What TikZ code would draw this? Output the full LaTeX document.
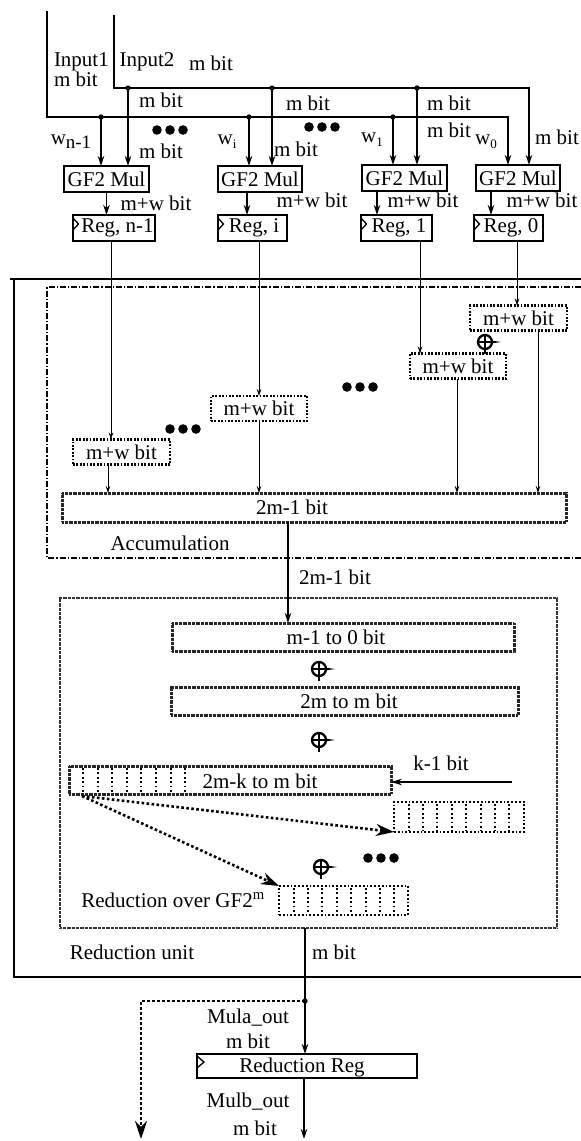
\documentclass[tikz,border=0pt]{standalone}
\usepackage{fontspec}
\setmainfont{Liberation Serif}
\usetikzlibrary{arrows.meta}
\tikzset{
  every node/.style={font=\fontsize{21}{20}\selectfont, inner sep=0pt, outer sep=0pt},
  sbox/.style={draw, line width=1.4pt, minimum height=26pt},
  arr/.style={line width=1.3pt, -{Stealth[length=10pt,width=6.5pt]}},
  tarr/.style={line width=0.75pt, -{Stealth[length=7pt,width=4.5pt]}},
  dbox/.style={draw, line width=2.2pt, dash pattern=on 1.8pt off 1.6pt, minimum height=25pt},
  gbox/.style={draw=black!85, line width=3pt, dash pattern=on 0.8pt off 0.5pt, minimum height=28pt},
  bitbox/.style={draw, line width=2.2pt, dash pattern=on 1.8pt off 2pt, minimum height=29pt},
  divider/.style={line width=2pt, dash pattern=on 1.8pt off 2.6pt},
  dotarr/.style={line width=2.6pt, dash pattern=on 2.6pt off 2.4pt, -{Stealth[length=18pt,width=12pt]}},
  accline/.style={line width=1.1pt, dash pattern=on 6pt off 2pt on 1.2pt off 2pt},
  clk/.style={line width=1.3pt},
  xorsym/.pic={
    \draw[line width=2.3pt] (0,0) circle (7pt);
    \draw[line width=2.3pt] (-7,0) -- (7,0) (0,-7) -- (0,12);
    \fill (6,-1.5) -- (16,0) -- (6,1.5) -- cycle;
  },
  dots3/.pic={
    \fill (-13,0) circle (4.8pt) (0,0) circle (4.8pt) (13,0) circle (4.8pt);
  },
}
\begin{document}
\begin{tikzpicture}[x=1pt,y=-1pt]
\useasboundingbox (0,0) rectangle (581,1141);

% ---------- top inputs ----------
\coordinate (in1top) at (47,11);
\coordinate (in2top) at (114,15);
\coordinate (w0c) at (508,117);
\coordinate (m0c) at (529,88);
\coordinate (t1) at (101,117);
\coordinate (t2) at (249,117);
\coordinate (t3) at (393,117);
\coordinate (u1) at (128,88);
\coordinate (u2) at (272,88);
\coordinate (u3) at (417,88);

\node[sbox, minimum width=85pt] (gf1) at (106.5,179) {GF2 Mul};
\node[sbox, minimum width=84pt] (gf2) at (260,179) {GF2 Mul};
\node[sbox, minimum width=85pt] (gf3) at (404.5,178) {GF2 Mul};
\node[sbox, minimum width=84pt] (gf4) at (518,178) {GF2 Mul};

\draw[arr] (in1top) |- (w0c) -- (w0c |- gf4.north);
\draw[arr] (in2top) |- (m0c) -- (m0c |- gf4.north);
\foreach \t/\g in {t1/gf1,t2/gf2,t3/gf3,u1/gf1,u2/gf2,u3/gf3}{
  \draw[arr] (\t) -- (\t |- \g.north);
  \fill (\t) circle (2.7pt);
}

\node[align=left, anchor=west] (lin1) at (54,70) {Input1\\m bit};
\node (lin2) at (147,62) {Input2};
\node (lm0) at (211,63) {m bit};
\node (lm1) at (161,100) {m bit};
\node (lm2) at (308,103) {m bit};
\node (lm3) at (449,103) {m bit};
\node (lm4) at (449,130) {m bit};
\node (lm5) at (557,137) {m bit};
\node (lm6) at (161,151) {m bit};
\node (lm7) at (296,149) {m bit};
\node (lw1) at (71,142) {w\raisebox{-4pt}{\fontsize{19}{19}\selectfont n-1}};
\node (lw2) at (227,142) {w\raisebox{-4pt}{\fontsize{13}{13}\selectfont i}};
\node (lw3) at (372,140) {w\raisebox{-4pt}{\fontsize{13}{13}\selectfont 1}};
\node (lw4) at (486,142) {w\raisebox{-4pt}{\fontsize{13}{13}\selectfont 0}};
\pic at (170,130) {dots3};
\pic at (322,127) {dots3};

% ---------- registers ----------
\node[sbox, minimum width=82pt] (rg1) at (114,228) {};
\node[sbox, minimum width=69pt] (rg2) at (252.5,228) {};
\node[sbox, minimum width=71pt] (rg3) at (396.5,228) {};
\node[sbox, minimum width=69pt] (rg4) at (508.5,228) {};
\node (rg1t) at (117.5,228) {Reg, n-1};
\node (rg2t) at (254,228) {Reg, i};
\node (rg3t) at (399,228) {Reg, 1};
\node (rg4t) at (511,228) {Reg, 0};
\foreach \r in {rg1,rg2,rg3,rg4}{
  \draw[clk] ([shift={(0,3)}]\r.north west) -- ([shift={(5.5,9)}]\r.north west) -- ([shift={(0,15)}]\r.north west);
}
\draw[arr] (gf1.south) -- (gf1.south |- rg1.north);
\draw[arr] ([xshift=-13pt]gf2.south) -- ([xshift=-13pt]gf2.south |- rg2.north);
\draw[arr] ([xshift=-27.5pt]gf3.south) -- ([xshift=-27.5pt]gf3.south |- rg3.north);
\draw[arr] ([xshift=-27pt]gf4.south) -- ([xshift=-27pt]gf4.south |- rg4.north);
\node (lmw1) at (156,203) {m+w bit};
\node (lmw2) at (312,200) {m+w bit};
\node (lmw3) at (423,200) {m+w bit};
\node (lmw4) at (542,200) {m+w bit};

% ---------- outer unit box ----------
\draw[line width=1.4pt] (581,279) -- (10,279);
\draw[line width=1.4pt] (14,279) -- (14,977) -- (581,977);

% ---------- accumulation ----------
\draw[accline] (581,287) -- (47,287) -- (47,558) -- (581,558);
\node[dbox, minimum width=97pt] (bA) at (518.5,318) {m+w bit};
\node[dbox, minimum width=96pt] (bB) at (458,366) {m+w bit};
\node[dbox, minimum width=96pt] (bC) at (259,408.5) {m+w bit};
\node[dbox, minimum width=97pt] (bD) at (121.5,452) {m+w bit};
\draw[tarr] ([xshift=-3pt]rg1.south) -- ([xshift=-3pt]rg1.south |- bD.north);
\draw[tarr] ([xshift=6.5pt]rg2.south) -- ([xshift=6.5pt]rg2.south |- bC.north);
\draw[tarr] ([xshift=23.5pt]rg3.south) -- ([xshift=23.5pt]rg3.south |- bB.north);
\draw[tarr] ([xshift=8.5pt]rg4.south) -- ([xshift=8.5pt]rg4.south |- bA.north);
\pic at (485,342) {xorsym};
\pic at (360,387) {dots3};
\pic at (183,429) {dots3};

\node[gbox, minimum width=504pt, minimum height=29pt] (acc) at (314,507.5) {};
\node (acct) at (292,507.5) {2m-1 bit};
\draw[tarr] ([xshift=-13.5pt]bD.south) -- ([xshift=-13.5pt]bD.south |- acc.north);
\draw[tarr] (bC.south) -- (bC.south |- acc.north);
\draw[tarr] ([xshift=-1pt]bB.south) -- ([xshift=-1pt]bB.south |- acc.north);
\draw[tarr] ([xshift=19.5pt]bA.south) -- ([xshift=19.5pt]bA.south |- acc.north);
\node (laccu) at (170,543) {Accumulation};
\node (l2m1) at (335,577) {2m-1 bit};

% ---------- reduction ----------
\node[draw=black!80, line width=1.1pt, dash pattern=on 0.7pt off 0.6pt, minimum width=497pt, minimum height=330pt] (red) at (308.5,763) {};
\node[gbox, minimum width=342pt] (r1) at (343,637) {};
\node (r1t) at (336,637) {m-1 to 0 bit};
\node[gbox, minimum width=347pt] (r2) at (344.5,701) {};
\node (r2t) at (349,701) {2m to m bit};
\node[gbox, minimum width=322pt] (r3) at (230,780) {};
\node (r3t) at (260,781) {2m-k to m bit};
\foreach \i in {0,...,7}{
  \draw[divider] ({83+14.6*\i},768) -- ({83+14.6*\i},793);
}
\draw[arr] ([xshift=-26pt]acc.south) -- ([xshift=-26pt]acc.south |- r1.north);
\pic at (319,669) {xorsym};
\pic at (319,740) {xorsym};

\coordinate (kin) at (512,782);
\draw[line width=1.1pt, -{Stealth[length=11pt,width=6.5pt]}] (kin) -- (kin -| r3.east);
\node (lk) at (441,763) {k-1 bit};

\node[bitbox, minimum width=130pt, minimum height=30pt] (rb1) at (459,817) {};
\foreach \i in {0,...,7}{
  \draw[divider] ({408.5+14.4*\i},804) -- ({408.5+14.4*\i},831);
}
\node[bitbox, minimum width=129pt] (rb2) at (343.5,900.5) {};
\foreach \i in {0,...,7}{
  \draw[divider] ({293.5+14.4*\i},888) -- ({293.5+14.4*\i},914);
}
\coordinate (ds) at (82,796);
\draw[dotarr] (ds) -- (rb1.south west);
\draw[dotarr] (ds) -- (rb2.north west);
\pic at (321,867) {xorsym};
\pic at (381,858) {dots3};
\node (lred) at (173,900) {Reduction over GF2\textsuperscript{m}};

\node (lunit) at (132,952) {Reduction unit};
\node (lmb) at (334,952) {m bit};

% ---------- output ----------
\node[draw, line width=2.2pt, minimum width=220pt, minimum height=24pt] (rreg) at (307,1066) {};
\node (rregt) at (302,1067) {Reduction Reg};
\draw[clk] ([shift={(0,2)}]rreg.north west) -- ([shift={(7,8)}]rreg.north west) -- ([shift={(0,14)}]rreg.north west);
\coordinate (split) at (305,1001);
\coordinate (dl) at (141,1001);
\coordinate (dend) at (141,1139);
\coordinate (rend) at (304,1139);
\draw[arr] ([xshift=-3.5pt]red.south) -- ([xshift=-3.5pt]red.south |- rreg.north);
\fill (split) circle (2.7pt);
\draw[dotarr] (split) -- (dl) -- (dend);
\draw[arr] (rreg.south -| rend) -- (rend);
\node (lmula) at (248,1018) {Mula\_out};
\node (lmb2) at (248,1041) {m bit};
\node (lmulb) at (248,1102) {Mulb\_out};
\node (lmb3) at (255,1128) {m bit};
\end{tikzpicture}
\end{document}
